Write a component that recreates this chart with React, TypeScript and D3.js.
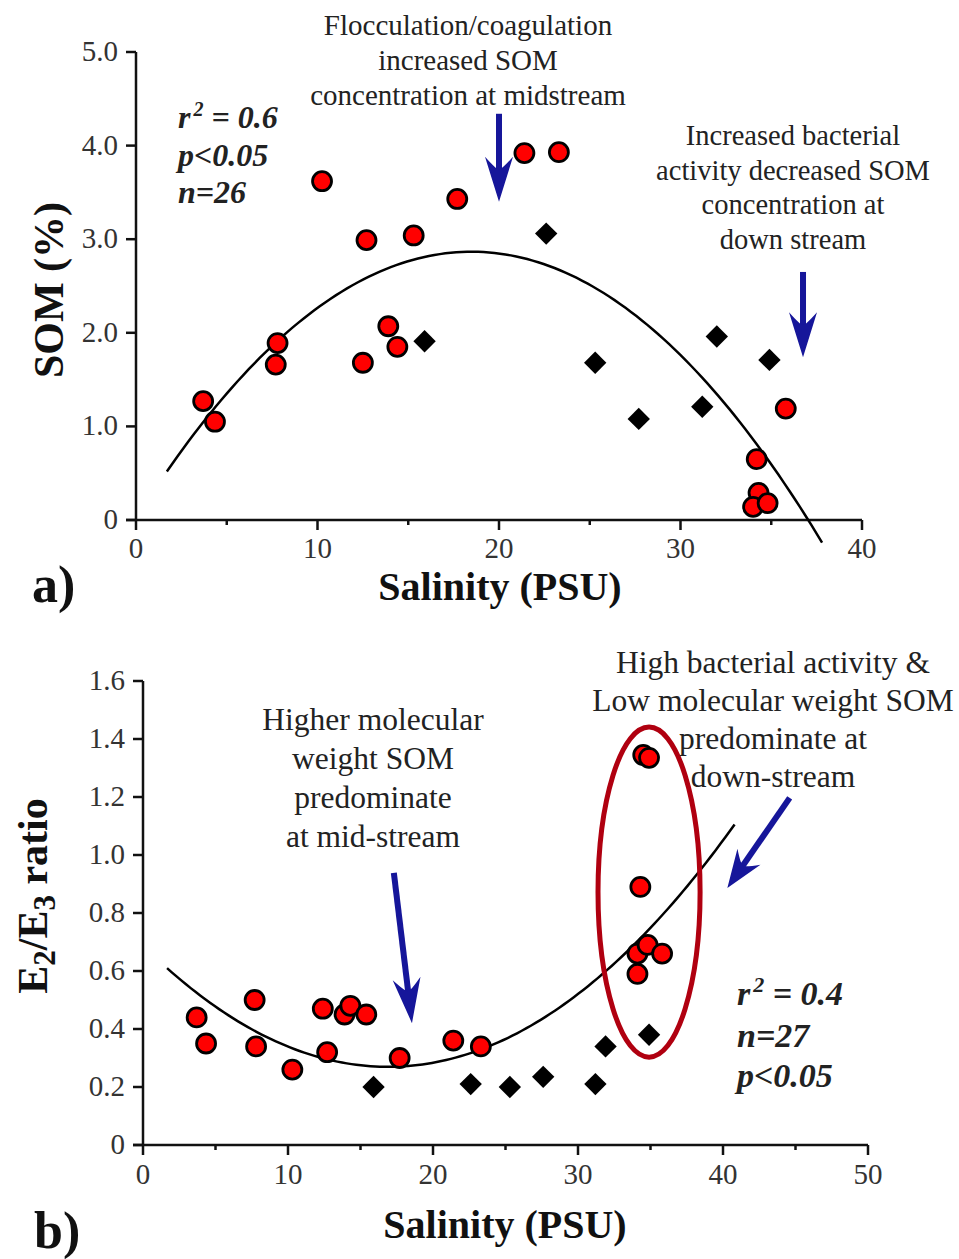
import React from 'react'
import * as d3 from 'd3'

// ---- panel a: SOM (%) vs salinity ----
const somCircleSal = [3.7, 4.35, 7.8, 7.7, 10.25, 12.7, 12.5, 13.9, 14.4, 15.3, 17.7, 21.4, 23.3, 35.8, 34.2, 34.3, 34.0, 34.8]
const somCircleVal = [1.27, 1.05, 1.89, 1.66, 3.62, 2.99, 1.68, 2.07, 1.85, 3.04, 3.43, 3.92, 3.93, 1.19, 0.65, 0.29, 0.14, 0.18]
const somDiamondSal = [15.9, 22.6, 25.3, 27.7, 31.2, 32.0, 34.9]
const somDiamondVal = [1.91, 3.06, 1.68, 1.08, 1.21, 1.96, 1.71]
// quadratic trend line (c0 + c1*x + c2*x^2) and its x extent
const somFit = [0.019, 0.308, -0.00833]
const somFitRange = [1.7, 37.8]
const somXTicks = [0, 10, 20, 30, 40]
const somXMinor = [5, 15, 25, 35]
const somYTicks = [0, 1, 2, 3, 4, 5]
const somYLabels = ['0', '1.0', '2.0', '3.0', '4.0', '5.0']

// ---- panel b: E2/E3 vs salinity ----
const e23CircleSal = [3.7, 4.35, 7.7, 7.8, 10.3, 12.4, 12.7, 13.9, 14.3, 15.4, 17.7, 21.4, 23.3, 34.5, 34.9, 34.3, 34.1, 34.1, 34.8, 35.8]
const e23CircleVal = [0.44, 0.35, 0.5, 0.34, 0.26, 0.47, 0.32, 0.45, 0.48, 0.45, 0.3, 0.36, 0.34, 1.345, 1.335, 0.89, 0.59, 0.66, 0.69, 0.66]
const e23DiamondSal = [15.9, 22.6, 25.3, 27.6, 31.2, 31.9, 34.9]
const e23DiamondVal = [0.2, 0.21, 0.2, 0.235, 0.21, 0.34, 0.38]
const e23Fit = [0.688, -0.0495, 0.001464]
const e23FitRange = [1.66, 40.8]
const e23XTicks = [0, 10, 20, 30, 40, 50]
const e23XMinor = [5, 15, 25, 35, 45]
const e23YTicks = [0, 0.2, 0.4, 0.6, 0.8, 1.0, 1.2, 1.4, 1.6]
const e23YLabels = ['0', '0.2', '0.4', '0.6', '0.8', '1.0', '1.2', '1.4', '1.6']

const serif = '"Liberation Serif", "Times New Roman", serif'
const navy = '#16169a'

const Arrow = ({ x1, y1, x2, y2, head = 45 }) => {
  const len = Math.hypot(x2 - x1, y2 - y1)
  const ang = (Math.atan2(y2 - y1, x2 - x1) * 180) / Math.PI
  const W = 14
  return (
    <g transform={`translate(${x1},${y1}) rotate(${ang})`} fill={navy}>
      <rect x={0} y={-3} width={len - head * 0.6} height={6} />
      <path d={`M${len},0 L${len - head},${-W} Q${len - head * 0.7},-2 ${len - head * 0.72},0 Q${len - head * 0.7},2 ${len - head},${W} Z`} />
    </g>
  )
}

const Axes = ({ x, y, xt, xm, yt, yl, xLabelY }) => {
  const [x0, x1] = x.range()
  const [y0, y1] = y.range()
  return (
    <g stroke="#111" strokeWidth={2.5} fill="none">
      <line x1={x0 - 10} x2={x1} y1={y0} y2={y0} />
      <line x1={x0} x2={x0} y1={y0} y2={y1} />
      {xt.map(t => <line key={'x' + t} x1={x(t)} x2={x(t)} y1={y0} y2={y0 + 10} />)}
      {xm.map(t => <line key={'m' + t} x1={x(t)} x2={x(t)} y1={y0} y2={y0 + 5} />)}
      {yt.map(t => <line key={'y' + t} x1={x0 - 10} x2={x0} y1={y(t)} y2={y(t)} />)}
      <g stroke="none" fill="#333" fontFamily={serif} fontSize={29}>
        {xt.map(t => (
          <text key={'xl' + t} x={x(t)} y={xLabelY} textAnchor="middle">{t}</text>
        ))}
        {yt.map((t, i) => (
          <text key={'yl' + t} x={x0 - 18} y={y(t) + 9} textAnchor="end">{yl[i]}</text>
        ))}
      </g>
    </g>
  )
}

const fitPath = (coef, range, x, y) => {
  const xs = d3.range(range[0], range[1] + 0.001, (range[1] - range[0]) / 120)
  return d3.line().x(d => x(d)).y(d => y(coef[0] + coef[1] * d + coef[2] * d * d))(xs)
}

const diamond = d3.symbol(d3.symbolSquare, 250)()

const Points = ({ cs, cv, ds, dv, x, y, r }) => (
  <g>
    {ds.map((s, i) => (
      <path key={'d' + i} d={diamond} transform={`translate(${x(s)},${y(dv[i])}) rotate(45)`} fill="#000" />
    ))}
    {cs.map((s, i) => (
      <circle key={'c' + i} cx={x(s)} cy={y(cv[i])} r={r} fill="#ff0000" stroke="#000" strokeWidth={2.8} />
    ))}
  </g>
)

const Lines = ({ x, y, lines, size, baseline, gap, color = '#222', weight = 'normal', style = 'normal', anchor = 'middle' }) => (
  <text x={x} y={baseline} fontFamily={serif} fontSize={size} fill={color} fontWeight={weight} fontStyle={style} textAnchor={anchor}>
    {lines.map((l, i) => (
      <tspan key={i} x={x} y={baseline + i * gap}>{l}</tspan>
    ))}
  </text>
)

export default function App() {
  const xA = d3.scaleLinear().domain([0, 40]).range([136, 862])
  const yA = d3.scaleLinear().domain([0, 5]).range([520, 52])
  const xB = d3.scaleLinear().domain([0, 50]).range([143, 868])
  const yB = d3.scaleLinear().domain([0, 1.6]).range([1145, 681])

  return (
    <svg width={959} height={1259} style={{ position: 'absolute', left: 0, top: 0, background: '#fff' }}>
      {/* panel a */}
      <Axes x={xA} y={yA} xt={somXTicks} xm={somXMinor} yt={somYTicks} yl={somYLabels} xLabelY={558} />
      <path d={fitPath(somFit, somFitRange, xA, yA)} fill="none" stroke="#000" strokeWidth={2.5} />
      <Points cs={somCircleSal} cv={somCircleVal} ds={somDiamondSal} dv={somDiamondVal} x={xA} y={yA} r={9.5} />
      <Arrow x1={xA(20)} y1={yA(4.34)} x2={xA(20)} y2={yA(3.4)} />
      <Arrow x1={xA(36.75)} y1={yA(2.65)} x2={xA(36.75)} y2={yA(1.74)} />
      <Lines x={468} baseline={35} gap={35} size={29} lines={['Flocculation/coagulation', 'increased SOM', 'concentration at midstream']} />
      <Lines x={793} baseline={145} gap={34.5} size={28.5} lines={['Increased bacterial', 'activity decreased SOM', 'concentration at', 'down stream']} />
      <g fontFamily={serif} fontSize={32} fontWeight="bold" fontStyle="italic" fill="#222">
        <text x={178} y={128}>r<tspan dx={3} dy={-12} fontSize={20}>2</tspan><tspan dy={12}> = 0.6</tspan></text>
        <text x={178} y={166}>p&lt;0.05</text>
        <text x={178} y={203}>n=26</text>
      </g>
      <text x={500} y={600} textAnchor="middle" fontFamily={serif} fontWeight="bold" fontSize={40} fill="#111">Salinity (PSU)</text>
      <text transform="translate(63,290) rotate(-90)" textAnchor="middle" fontFamily={serif} fontWeight="bold" fontSize={42} fill="#111">SOM (%)</text>
      <text x={32} y={602} fontFamily={serif} fontWeight="bold" fontSize={52} fill="#111">a)</text>

      {/* panel b */}
      <Axes x={xB} y={yB} xt={e23XTicks} xm={e23XMinor} yt={e23YTicks} yl={e23YLabels} xLabelY={1184} />
      <path d={fitPath(e23Fit, e23FitRange, xB, yB)} fill="none" stroke="#000" strokeWidth={2.5} />
      <ellipse cx={xB(34.9)} cy={yB(0.872)} rx={xB(3.52) - xB(0)} ry={yB(0) - yB(0.569)} fill="none" stroke="#b00010" strokeWidth={5} />
      <Points cs={e23CircleSal} cv={e23CircleVal} ds={e23DiamondSal} dv={e23DiamondVal} x={xB} y={yB} r={9.5} />
      <Arrow x1={xB(17.3)} y1={yB(0.938)} x2={xB(18.55)} y2={yB(0.42)} />
      <Arrow x1={xB(44.6)} y1={yB(1.197)} x2={xB(40.3)} y2={yB(0.886)} head={38} />
      <Lines x={373} baseline={730} gap={39} size={31.5} lines={['Higher molecular', 'weight SOM', 'predominate', 'at mid-stream']} />
      <Lines x={773} baseline={673} gap={38} size={31.5} lines={['High bacterial activity &', 'Low molecular weight SOM', 'predominate at', 'down-stream']} />
      <g fontFamily={serif} fontSize={34} fontWeight="bold" fontStyle="italic" fill="#222">
        <text x={737} y={1005}>r<tspan dx={3} dy={-13} fontSize={22}>2</tspan><tspan dy={13}> = 0.4</tspan></text>
        <text x={737} y={1047}>n=27</text>
        <text x={737} y={1087}>p&lt;0.05</text>
      </g>
      <text x={505} y={1238} textAnchor="middle" fontFamily={serif} fontWeight="bold" fontSize={40} fill="#111">Salinity (PSU)</text>
      <text transform="translate(47,896) rotate(-90)" textAnchor="middle" fontFamily={serif} fontWeight="bold" fontSize={42} fill="#111">
        E<tspan dy={8} fontSize={31}>2</tspan><tspan dy={-8}>/E</tspan><tspan dy={8} fontSize={31}>3</tspan><tspan dy={-8}> ratio</tspan>
      </text>
      <text x={34} y={1248} fontFamily={serif} fontWeight="bold" fontSize={52} fill="#111">b)</text>
    </svg>
  )
}
